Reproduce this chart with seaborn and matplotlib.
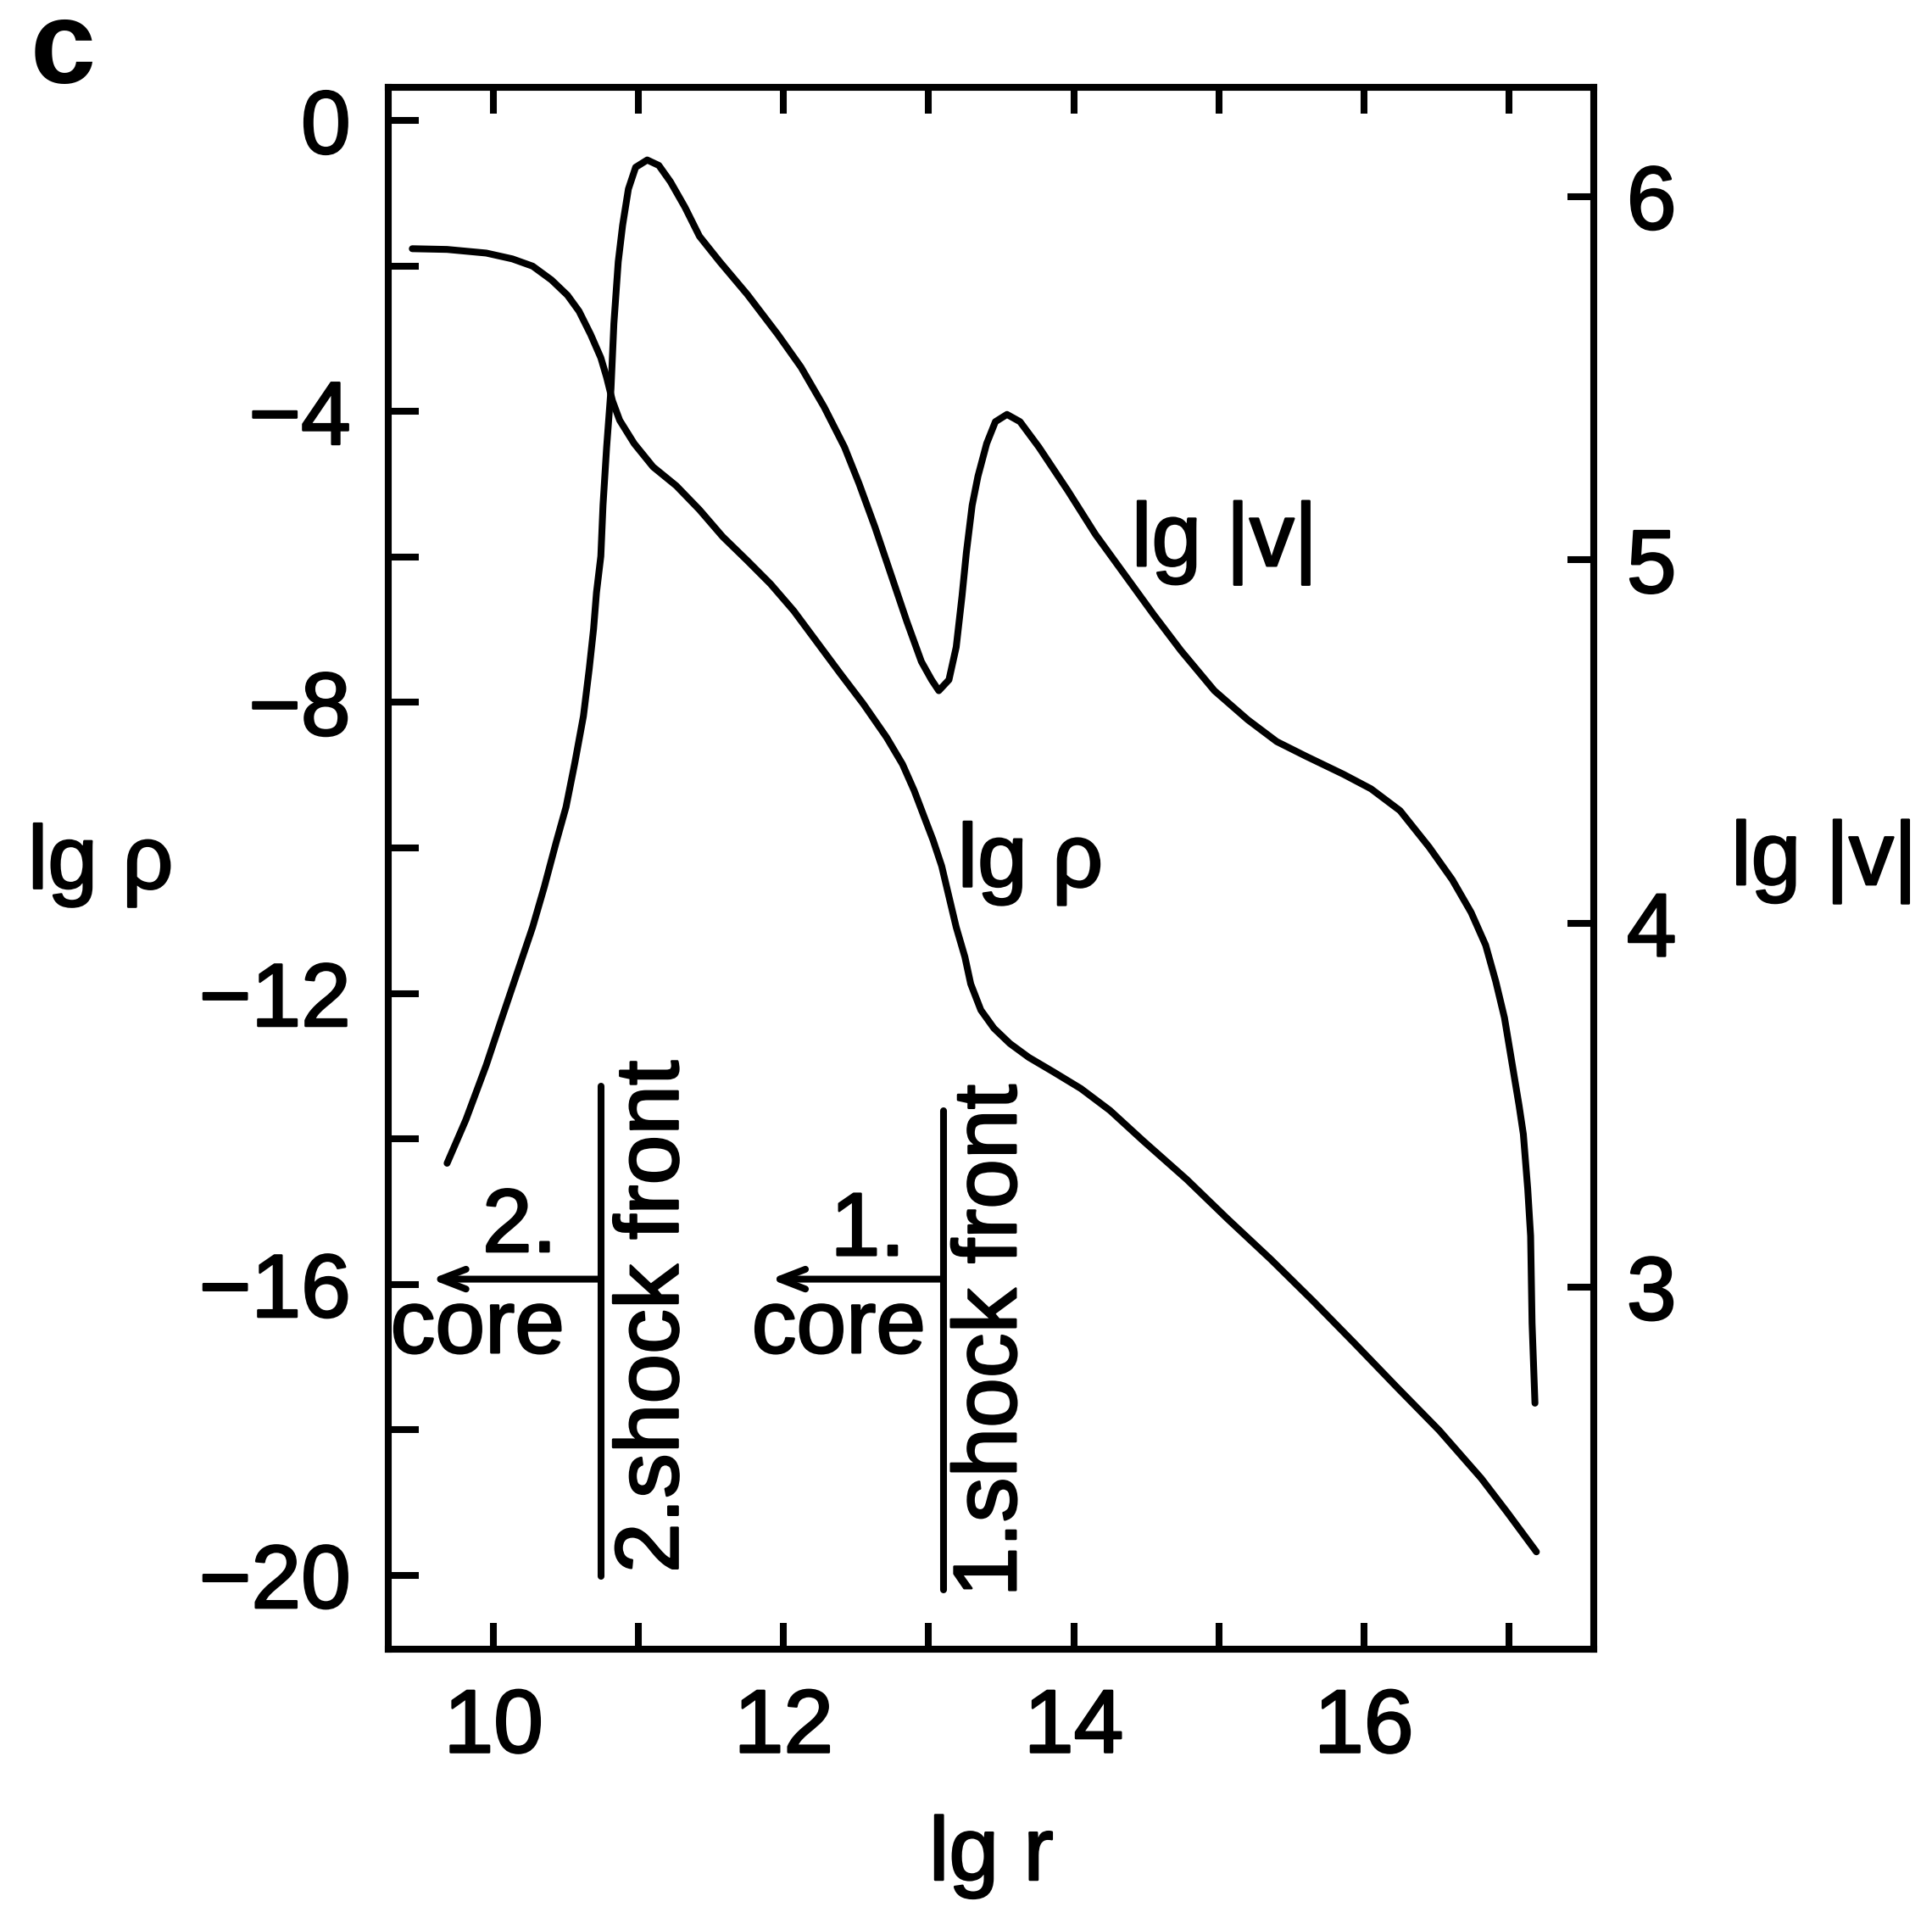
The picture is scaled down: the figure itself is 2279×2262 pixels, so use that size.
import numpy as np
import pandas as pd
import matplotlib
matplotlib.use("Agg")
import matplotlib.pyplot as plt
import matplotlib.patheffects as pe
import seaborn as sns

# density profile: lg r, lg rho
r_rho = [9.44, 9.68, 9.95, 10.13, 10.27, 10.40, 10.51, 10.59, 10.67, 10.74,
         10.78, 10.82, 10.87, 10.97, 11.10, 11.26, 11.42, 11.58, 11.75, 11.91,
         12.07, 12.23, 12.39, 12.55, 12.71, 12.82, 12.90, 12.98, 13.03, 13.09,
         13.14, 13.19, 13.25, 13.29, 13.36, 13.45, 13.56, 13.69, 13.86, 14.05,
         14.25, 14.48, 14.78, 15.06, 15.36, 15.65, 15.94, 16.23, 16.52, 16.81,
         16.99, 17.19]
lg_rho = [-1.76, -1.77, -1.82, -1.90, -2.00, -2.19, -2.40, -2.62, -2.94, -3.26,
          -3.53, -3.85, -4.12, -4.44, -4.76, -5.02, -5.35, -5.72, -6.05, -6.37,
          -6.74, -7.17, -7.60, -8.02, -8.48, -8.85, -9.21, -9.63, -9.89, -10.25,
          -10.67, -11.09, -11.50, -11.87, -12.23, -12.48, -12.69, -12.88, -13.08, -13.31,
          -13.61, -14.03, -14.56, -15.10, -15.66, -16.23, -16.82, -17.42, -18.01, -18.67,
          -19.14, -19.68]

# velocity profile: lg r, lg |v|
r_vel = [9.68, 9.81, 9.95, 10.05, 10.16, 10.27, 10.35, 10.43, 10.50, 10.56,
         10.62, 10.66, 10.69, 10.71, 10.74, 10.755, 10.78, 10.81, 10.83, 10.86,
         10.89, 10.93, 10.98, 11.06, 11.14, 11.22, 11.32, 11.42, 11.56, 11.75,
         11.96, 12.12, 12.28, 12.42, 12.52, 12.63, 12.74, 12.85, 12.95, 13.02,
         13.07, 13.14, 13.19, 13.23, 13.26, 13.30, 13.34, 13.40, 13.46, 13.54,
         13.63, 13.76, 13.96, 14.15, 14.35, 14.55, 14.74, 14.97, 15.20, 15.40,
         15.60, 15.86, 16.05, 16.25, 16.45, 16.61, 16.74, 16.84, 16.91, 16.97,
         17.02, 17.07, 17.10, 17.13, 17.15, 17.16, 17.18]
lg_vel = [3.34, 3.46, 3.61, 3.73, 3.86, 3.99, 4.10, 4.22, 4.32, 4.44,
          4.57, 4.70, 4.81, 4.91, 5.01, 5.15, 5.31, 5.47, 5.65, 5.82,
          5.92, 6.02, 6.08, 6.10, 6.085, 6.04, 5.97, 5.89, 5.82, 5.73,
          5.62, 5.53, 5.42, 5.31, 5.21, 5.09, 4.96, 4.83, 4.72, 4.67,
          4.64, 4.67, 4.76, 4.90, 5.02, 5.15, 5.23, 5.32, 5.38, 5.40,
          5.38, 5.31, 5.19, 5.07, 4.96, 4.85, 4.75, 4.64, 4.56, 4.50,
          4.46, 4.41, 4.37, 4.31, 4.21, 4.12, 4.03, 3.94, 3.84, 3.74,
          3.62, 3.50, 3.42, 3.27, 3.14, 2.90, 2.68]

x_ticks = [10, 12, 14, 16]
x_minor = [11, 13, 15, 17]
rho_ticks = [-20, -16, -12, -8, -4, 0]
rho_minor = [-18, -14, -10, -6, -2]
vel_ticks = [3, 4, 5, 6]

# shock front positions (lg r) and marker heights (lg rho)
shock2_r, shock2_span = 10.74, (-20.02, -13.28)
shock1_r, shock1_span = 13.10, (-20.20, -13.62)
arrow_y = -15.93
core2_r, core1_r = 9.57, 11.91

sns.set_theme(style="ticks")
plt.rcParams["font.family"] = ["Liberation Sans", "DejaVu Sans"]
plt.rcParams["axes.unicode_minus"] = True
plt.rcParams["text.color"] = "black"
plt.rcParams["xtick.color"] = "black"
plt.rcParams["ytick.color"] = "black"

LW = 2.9
FS = 38
heavy = [pe.withStroke(linewidth=0.9, foreground="black")]

fig = plt.figure(figsize=(2279 / 200, 2262 / 200), dpi=200)
ax = fig.add_axes([0.2010, 0.1401, 0.6239, 0.8144])
ax2 = ax.twinx()

rho_df = pd.DataFrame({"lg r": r_rho, "lg rho": lg_rho})
vel_df = pd.DataFrame({"lg r": r_vel, "lg v": lg_vel})
sns.lineplot(data=rho_df, x="lg r", y="lg rho", ax=ax, color="black",
             lw=LW, sort=False, estimator=None, solid_joinstyle="round",
             solid_capstyle="round")
sns.lineplot(data=vel_df, x="lg r", y="lg v", ax=ax2, color="black",
             lw=LW, sort=False, estimator=None, solid_joinstyle="round",
             solid_capstyle="round")

ax.set_xlim(9.275, 17.585)
ax.set_ylim(-21.02, 0.46)
ax2.set_ylim(2.003, 6.30)
ax.set_xlabel("")
ax.set_ylabel("")
ax2.set_ylabel("")

ax.set_xticks(x_ticks)
ax.set_xticks(x_minor, minor=True)
ax.set_yticks(rho_ticks)
ax.set_yticks(rho_minor, minor=True)
ax2.set_yticks(vel_ticks)
for lbl in ax.get_xticklabels() + ax.get_yticklabels() + ax2.get_yticklabels():
    lbl.set_fontsize(FS)
    lbl.set_color("black")
    lbl.set_path_effects(heavy)

ax.tick_params(axis="x", which="both", direction="in", top=True, bottom=True,
               length=11, width=LW, pad=16)
ax.tick_params(axis="y", which="both", direction="in", left=True, right=False,
               length=13, width=LW, pad=16)
ax2.tick_params(axis="y", which="both", direction="in", right=True, left=False,
                length=11, width=LW, pad=14)
for a in (ax, ax2):
    for s in a.spines.values():
        s.set_linewidth(LW)
        s.set_color("black")
        s.set_visible(True)

# shock front markers with arrows pointing to the cores
for r_s, span, r_core in ((shock2_r, shock2_span, core2_r),
                          (shock1_r, shock1_span, core1_r)):
    ax.plot([r_s, r_s], list(span), color="black", lw=LW, solid_capstyle="round")
    ax.annotate("", xy=(r_core, arrow_y), xytext=(r_s, arrow_y),
                arrowprops=dict(arrowstyle="->,head_length=0.9,head_width=0.35",
                                color="black", lw=LW, shrinkA=0, shrinkB=0))

txt = dict(fontsize=FS, color="black", path_effects=heavy)
ax.text(10.18, -15.23, "2.", ha="center", va="center", **txt)
ax.text(9.89, -16.62, "core", ha="center", va="center", **txt)
ax.text(12.58, -15.28, "1.", ha="center", va="center", **txt)
ax.text(12.38, -16.62, "core", ha="center", va="center", **txt)
ax.text(11.11, -19.97, "2.shock front", rotation=90,
        ha="center", va="bottom", **txt)
ax.text(13.44, -20.30, "1.shock front", rotation=90,
        ha="center", va="bottom", **txt)

# curve labels
ax.text(14.40, -5.80, "lg |v|", ha="left", va="center", **txt)
ax.text(13.20, -10.21, "lg ρ", ha="left", va="center", **txt)

# axis titles
fig.text(0.052, 0.549, "lg ρ", ha="center", va="center", **txt)
fig.text(0.944, 0.551, "lg |v|", ha="center", va="center", **txt)
fig.text(0.513, 0.0199, "lg r", ha="center", va="baseline", **txt)
fig.text(0.0325, 0.9726, "c", fontsize=50, fontweight="bold", color="black",
         ha="center", va="center")

fig.savefig("out.png", dpi=200, facecolor="white")
